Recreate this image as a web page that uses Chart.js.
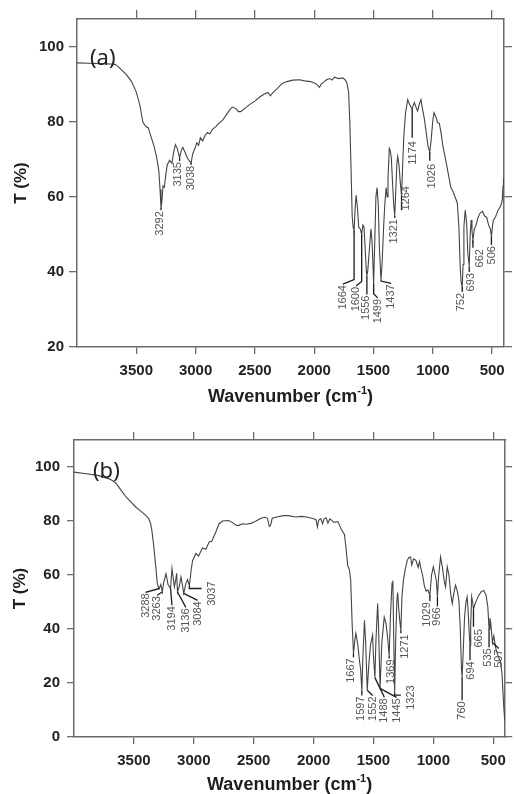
<!DOCTYPE html>
<html>
<head>
<meta charset="utf-8">
<title>FTIR spectra (a) and (b)</title>
<script src="https://cdn.jsdelivr.net/npm/chart.js@4.4.0/dist/chart.umd.min.js"></script>
<style>
  body { margin: 0; background: #fff; }
  .panel { position: absolute; left: 0; width: 514px; }
  #boxA { top: 0; height: 414px; }
  #boxB { top: 400px; height: 394px; }
</style>
</head>
<body>
<div class="panel" id="boxA"><canvas id="chartA"></canvas></div>
<div class="panel" id="boxB"><canvas id="chartB"></canvas></div>
<script>
// tick values
const xTicks = [3500, 3000, 2500, 2000, 1500, 1000, 500];
const yTicksA = [20, 40, 60, 80, 100];
const yTicksB = [0, 20, 40, 60, 80, 100];

// spectrum (a): wavenumber (cm-1) and transmittance (%)
const waveA = [4000, 3900, 3800, 3720, 3680, 3660, 3620, 3580, 3540, 3500, 3470, 3445, 3420, 3400, 3380, 3350, 3328, 3310, 3300, 3292, 3285, 3275, 3263, 3255, 3240, 3220, 3200, 3185, 3170, 3155, 3135, 3120, 3108, 3090, 3070, 3050, 3038, 3025, 3005, 2990, 2975, 2960, 2940, 2920, 2900, 2880, 2860, 2830, 2800, 2770, 2740, 2710, 2690, 2660, 2640, 2620, 2580, 2540, 2500, 2460, 2420, 2390, 2370, 2350, 2310, 2270, 2230, 2180, 2124, 2080, 2030, 1990, 1970, 1955, 1940, 1915, 1897, 1870, 1850, 1830, 1813, 1790, 1760, 1740, 1725, 1710, 1700, 1690, 1680, 1672, 1664, 1655, 1647, 1635, 1625, 1612, 1600, 1590, 1580, 1570, 1560, 1556, 1548, 1535, 1522, 1512, 1499, 1488, 1480, 1470, 1460, 1450, 1437, 1428, 1415, 1405, 1394, 1385, 1378, 1367, 1360, 1350, 1340, 1330, 1321, 1312, 1303, 1296, 1285, 1275, 1264, 1255, 1245, 1230, 1212, 1200, 1185, 1174, 1165, 1156, 1140, 1128, 1112, 1100, 1090, 1072, 1055, 1040, 1026, 1015, 1000, 990, 975, 960, 945, 930, 915, 903, 880, 860, 847, 830, 810, 794, 780, 770, 762, 752, 745, 738, 727, 715, 705, 693, 685, 677, 670, 662, 650, 635, 620, 600, 581, 565, 545, 530, 515, 506, 498, 490, 470, 450, 430, 415, 408, 404];
const transA = [95.8, 95.7, 95.6, 95.5, 95.4, 95.0, 93.8, 92.5, 90.8, 88.0, 84.5, 80.0, 78.8, 78.5, 76.5, 73.5, 70.5, 67.0, 62.0, 57.2, 58.5, 63.0, 62.6, 65.0, 68.5, 69.8, 69.0, 72.0, 74.0, 73.0, 70.5, 72.5, 73.3, 72.0, 70.5, 69.5, 69.0, 71.5, 73.0, 74.5, 73.8, 75.8, 75.0, 76.5, 77.2, 76.8, 78.0, 78.8, 79.8, 80.6, 82.0, 83.4, 84.0, 83.6, 82.8, 82.8, 83.8, 84.8, 85.6, 86.7, 87.5, 87.9, 87.0, 87.8, 89.0, 90.3, 90.8, 91.2, 91.3, 91.0, 90.8, 90.3, 89.8, 89.3, 90.2, 90.8, 91.3, 91.6, 91.2, 92.0, 91.8, 91.6, 91.8, 91.3, 90.5, 88.0, 80.0, 68.0, 55.0, 52.0, 51.0, 57.0, 60.5, 57.0, 52.0, 51.5, 50.0, 52.5, 52.0, 46.0, 40.0, 39.0, 40.5, 46.0, 51.5, 48.0, 37.0, 50.0, 60.0, 62.5, 58.0, 46.0, 38.0, 42.0, 52.0, 58.0, 62.5, 60.0, 65.0, 73.0, 72.5, 70.5, 64.0, 58.0, 55.0, 62.0, 69.0, 70.8, 68.5, 64.0, 60.5, 68.0, 76.0, 82.5, 86.0, 85.0, 84.0, 83.5, 84.5, 85.2, 83.8, 83.0, 85.0, 86.0, 84.0, 81.0, 77.0, 73.5, 72.0, 75.0, 80.5, 82.5, 81.5, 79.8, 79.7, 77.0, 73.5, 71.7, 68.0, 64.5, 62.5, 61.5, 59.8, 58.5, 52.0, 42.0, 37.5, 36.0, 42.0, 52.0, 56.5, 53.0, 45.0, 41.5, 50.0, 53.9, 51.0, 48.5, 51.5, 52.5, 54.5, 55.8, 56.2, 55.0, 54.5, 52.5, 51.5, 49.5, 52.0, 53.8, 54.8, 56.5, 57.5, 59.0, 63.0, 65.0];

// spectrum (b)
const waveB = [4000, 3900, 3800, 3707, 3680, 3650, 3600, 3567, 3520, 3480, 3458, 3420, 3390, 3375, 3360, 3350, 3335, 3317, 3305, 3295, 3288, 3275, 3263, 3250, 3232, 3215, 3194, 3182, 3162, 3150, 3143, 3136, 3120, 3107, 3096, 3084, 3066, 3052, 3037, 3020, 3010, 2982, 2960, 2927, 2900, 2871, 2850, 2816, 2789, 2760, 2711, 2680, 2650, 2628, 2590, 2560, 2518, 2480, 2440, 2407, 2385, 2370, 2360, 2345, 2300, 2250, 2212, 2150, 2100, 2047, 2000, 1980, 1968, 1958, 1940, 1925, 1912, 1895, 1880, 1865, 1850, 1830, 1797, 1770, 1742, 1729, 1715, 1701, 1690, 1678, 1667, 1655, 1647, 1630, 1617, 1607, 1597, 1588, 1575, 1565, 1552, 1540, 1525, 1507, 1500, 1488, 1480, 1465, 1457, 1445, 1430, 1410, 1395, 1380, 1369, 1358, 1345, 1338, 1332, 1323, 1315, 1305, 1298, 1290, 1280, 1271, 1262, 1250, 1235, 1218, 1205, 1190, 1180, 1165, 1146, 1127, 1115, 1107, 1090, 1075, 1060, 1045, 1029, 1015, 1000, 985, 975, 966, 955, 940, 925, 910, 898, 884, 870, 855, 842, 830, 815, 800, 787, 775, 765, 760, 752, 740, 728, 718, 710, 700, 694, 688, 680, 672, 665, 655, 640, 620, 600, 579, 560, 545, 535, 528, 520, 507, 495, 480, 460, 440, 427, 412, 404];
const transB = [98.1, 97.5, 96.9, 95.6, 95.0, 94.0, 91.0, 89.0, 86.8, 85.0, 84.2, 82.8, 81.6, 80.8, 79.0, 76.5, 71.0, 63.0, 57.0, 55.5, 55.0, 56.5, 53.7, 57.5, 60.5, 56.5, 55.0, 62.4, 55.6, 58.5, 60.6, 53.7, 56.0, 59.3, 56.5, 53.2, 56.9, 58.3, 56.0, 62.5, 65.4, 68.0, 67.0, 70.0, 69.5, 72.2, 72.5, 75.9, 79.0, 80.0, 80.2, 79.5, 78.5, 78.3, 79.0, 78.8, 79.2, 80.0, 81.0, 81.4, 81.0, 78.0, 78.3, 81.0, 81.6, 82.0, 82.0, 81.5, 81.7, 81.4, 80.8, 80.5, 77.8, 80.3, 80.9, 79.0, 80.8, 81.2, 79.2, 80.8, 80.3, 79.5, 79.8, 77.0, 75.0, 70.0, 63.5, 62.0, 58.0, 42.0, 31.0, 36.0, 38.4, 34.0, 28.4, 25.0, 17.0, 30.0, 43.2, 35.0, 17.3, 26.0, 34.0, 37.7, 30.0, 22.0, 35.0, 49.4, 40.0, 18.0, 35.0, 44.4, 42.0, 36.0, 30.0, 45.0, 57.0, 58.0, 40.0, 16.3, 35.0, 50.0, 53.5, 48.0, 43.0, 39.5, 52.0, 58.0, 62.0, 65.4, 66.5, 66.7, 63.7, 66.0, 65.4, 62.8, 65.0, 63.0, 60.0, 56.0, 54.0, 54.5, 52.5, 60.0, 63.0, 60.0, 58.0, 52.0, 60.0, 66.7, 63.0, 58.0, 55.6, 63.0, 60.0, 53.0, 49.4, 53.0, 56.2, 54.0, 50.6, 40.0, 25.0, 22.2, 30.0, 44.0, 50.0, 51.9, 47.0, 38.0, 34.0, 42.0, 52.0, 50.0, 47.0, 49.0, 50.6, 52.5, 53.8, 54.3, 52.5, 48.0, 40.0, 44.0, 42.0, 35.0, 37.5, 33.0, 30.0, 28.0, 23.6, 11.0, 6.0];

// labelled peaks
const peaksA = [3292, 3135, 3038, 1664, 1600, 1556, 1499, 1437, 1321, 1264, 1174, 1026, 752, 693, 662, 506];
const peaksB = [3288, 3263, 3194, 3136, 3084, 3037, 1667, 1597, 1552, 1488, 1445, 1369, 1323, 1271, 1029, 966, 760, 694, 665, 535, 507];

// where each peak label sits (axis units): lx, ly = label centre / top, leg = end of vertical leader
const placeA = [
  { lx: 3300, ly: 56.5 }, { lx: 3145, ly: 69.6 }, { lx: 3035, ly: 68.6 },
  { lx: 1759, ly: 36.8, leg: 38.0, diag: true }, { lx: 1647, ly: 36.3, leg: 37.5, diag: true },
  { lx: 1562, ly: 34.0 }, { lx: 1465, ly: 33.1, leg: 34.2, diag: true },
  { lx: 1352, ly: 37.0, leg: 37.6, diag: true }, { lx: 1324, ly: 54.4 },
  { lx: 1230, ly: 63.2, leg: 56.5 }, { lx: 1167, ly: 75.2, leg: 75.8 },
  { lx: 1010, ly: 69.1, leg: 69.7 }, { lx: 762, ly: 34.7 }, { lx: 678, ly: 40.0 },
  { lx: 600, ly: 46.4, leg: 46.5 }, { lx: 499, ly: 47.2 }
];
const placeB = [
  { lx: 3403, ly: 53.6, diag: true }, { lx: 3306, ly: 52.5, diag: true },
  { lx: 3182, ly: 48.8, diag: true }, { lx: 3066, ly: 48.0, diag: true },
  { lx: 2968, ly: 50.6, diag: true }, { lx: 2850, ly: 58.0, leg: 55.0, ex: 2935, ey: 55.0 },
  { lx: 1687, ly: 29.5 }, { lx: 1604, ly: 15.4 }, { lx: 1507, ly: 15.4, diag: true },
  { lx: 1409, ly: 14.7, diag: true }, { lx: 1307, ly: 14.7, diag: true },
  { lx: 1355, ly: 29.1 }, { lx: 1188, ly: 19.5, leg: 15.5, ex: 1271, ey: 15.5 },
  { lx: 1241, ly: 38.4 }, { lx: 1050, ly: 50.3 }, { lx: 967, ly: 48.4 },
  { lx: 758, ly: 13.6 }, { lx: 689, ly: 28.4 }, { lx: 620, ly: 40.3, leg: 40.8 },
  { lx: 546, ly: 33.2 }, { lx: 454, ly: 32.8, diag: true }
];

const FONT = '"Liberation Sans", Arial, sans-serif';

document.addEventListener("DOMContentLoaded", () => {
  const panelA = {
    tag: "(a)", waves: waveA, trans: transA, peaks: peaksA, place: placeA, yTicks: yTicksA,
    yMin: 20, yMax: 107.5, left: 77, right: 10, top: 19, bottom: 67,
    leftTick: 8, leftPad: 5, topTick: 9, rightTick: 8, bottomTick: 7,
    tagX: 90, tagY: 59, yTitleX: 21, xTitleGap: 50
  };
  const panelB = {
    tag: "(b)", waves: waveB, trans: transB, peaks: peaksB, place: placeB, yTicks: yTicksB,
    yMin: 0, yMax: 110, left: 74, right: 6, top: 40, bottom: 57,
    leftTick: 7, leftPad: 7, topTick: 8, rightTick: 7, bottomTick: 7,
    tagX: 93, tagY: 72, yTitleX: 20, xTitleGap: 48
  };

  function axisX(pos, size, tickLen, showLabels) {
    return {
      type: "linear", position: pos, min: 400, max: 4000, reverse: true,
      afterBuildTicks: (s) => { s.ticks = xTicks.map((v) => ({ value: v })); },
      afterFit: (s) => { s.height = size; },
      ticks: {
        display: showLabels, autoSkip: false, maxRotation: 0, padding: 8, color: "#222",
        font: { family: FONT, size: 15, weight: "bold" },
        callback: (v) => String(v)
      },
      grid: { drawOnChartArea: false, drawTicks: true, tickLength: tickLen, color: "#6b6b6b", lineWidth: 1.3 },
      border: { display: true, color: "#6b6b6b", width: 1.5 }
    };
  }

  function axisY(pos, p, size, tickLen, showLabels) {
    return {
      type: "linear", position: pos, min: p.yMin, max: p.yMax,
      afterBuildTicks: (s) => { s.ticks = p.yTicks.map((v) => ({ value: v })); },
      afterFit: (s) => { s.width = size; },
      ticks: {
        display: showLabels, padding: p.leftPad, color: "#222",
        font: { family: FONT, size: 15, weight: "bold" },
        callback: (v) => String(v)
      },
      grid: { drawOnChartArea: false, drawTicks: true, tickLength: tickLen, color: "#6b6b6b", lineWidth: 1.3 },
      border: { display: true, color: "#6b6b6b", width: 1.5 }
    };
  }

  // peak labels, leader lines, axis titles and panel tag
  function peakPlugin(p) {
    return {
      id: "peaks",
      afterDatasetsDraw(chart) {
        const ctx = chart.ctx;
        const xs = chart.scales.x, ys = chart.scales.y;
        const px = (v) => xs.getPixelForValue(v);
        const py = (v) => ys.getPixelForValue(v);
        ctx.save();
        ctx.strokeStyle = "#1a1a1a";
        ctx.lineWidth = 1.3;
        p.peaks.forEach((wn, i) => {
          const m = p.place[i];
          const t = p.trans[p.waves.indexOf(wn)];
          const pts = [[wn, t]];
          if (m.leg !== undefined) pts.push([wn, m.leg]);
          if (m.ex !== undefined) pts.push([m.ex, m.ey]);
          else if (m.diag) pts.push([m.lx, m.ly]);
          else if (m.leg === undefined) pts.push([wn, m.ly]);
          ctx.beginPath();
          pts.forEach(([a, b], k) => {
            if (k) ctx.lineTo(px(a), py(b));
            else ctx.moveTo(px(a), py(b));
          });
          ctx.stroke();

          ctx.save();
          ctx.translate(px(m.lx), py(m.ly) + 1);
          ctx.rotate(-Math.PI / 2);
          ctx.fillStyle = "#555";
          ctx.font = "11px " + FONT;
          ctx.textAlign = "right";
          ctx.textBaseline = "middle";
          ctx.fillText(String(wn), 0, 0);
          ctx.restore();
        });
        ctx.restore();
      },
      afterDraw(chart) {
        const ctx = chart.ctx;
        const area = chart.chartArea;
        ctx.save();
        ctx.fillStyle = "#1e1e1e";

        // y title
        ctx.save();
        ctx.translate(p.yTitleX, (area.top + area.bottom) / 2);
        ctx.rotate(-Math.PI / 2);
        ctx.font = "bold 17px " + FONT;
        ctx.textAlign = "center";
        ctx.textBaseline = "middle";
        ctx.fillText("T (%)", 0, 0);
        ctx.restore();

        // x title with superscript
        const main = "Wavenumber (cm";
        const sup = "-1";
        const close = ")";
        const big = "bold 18px " + FONT, small = "bold 11px " + FONT;
        ctx.font = big;
        const w1 = ctx.measureText(main).width;
        const w3 = ctx.measureText(close).width;
        ctx.font = small;
        const w2 = ctx.measureText(sup).width;
        let x0 = (area.left + area.right) / 2 - (w1 + w2 + w3) / 2;
        const ty = area.bottom + p.xTitleGap;
        ctx.textAlign = "left";
        ctx.textBaseline = "middle";
        ctx.font = big;
        ctx.fillText(main, x0, ty);
        ctx.font = small;
        ctx.fillText(sup, x0 + w1, ty - 6);
        ctx.font = big;
        ctx.fillText(close, x0 + w1 + w2, ty);

        // panel tag
        ctx.fillStyle = "#222";
        ctx.font = '22px "Noto Sans", "Open Sans", sans-serif';
        ctx.textBaseline = "middle";
        ctx.fillText(p.tag, p.tagX, p.tagY);
        ctx.restore();
      }
    };
  }

  function buildChart(canvasId, p) {
    return new Chart(document.getElementById(canvasId), {
      type: "line",
      data: {
        datasets: [{
          data: p.waves.map((w, i) => ({ x: w, y: p.trans[i] })),
          borderColor: "#444",
          borderWidth: 1.1,
          pointRadius: 0,
          tension: 0,
          xAxisID: "x",
          yAxisID: "y"
        }]
      },
      options: {
        responsive: true,
        maintainAspectRatio: false,
        animation: false,
        layout: { padding: 0 },
        plugins: { legend: { display: false }, tooltip: { enabled: false } },
        scales: {
          x: axisX("bottom", p.bottom, p.bottomTick, true),
          xTop: axisX("top", p.top, p.topTick, false),
          y: axisY("left", p, p.left, p.leftTick, true),
          yRight: axisY("right", p, p.right, p.rightTick, false)
        }
      },
      plugins: [peakPlugin(p)]
    });
  }

  buildChart("chartA", panelA);
  buildChart("chartB", panelB);
});
</script>
</body>
</html>
